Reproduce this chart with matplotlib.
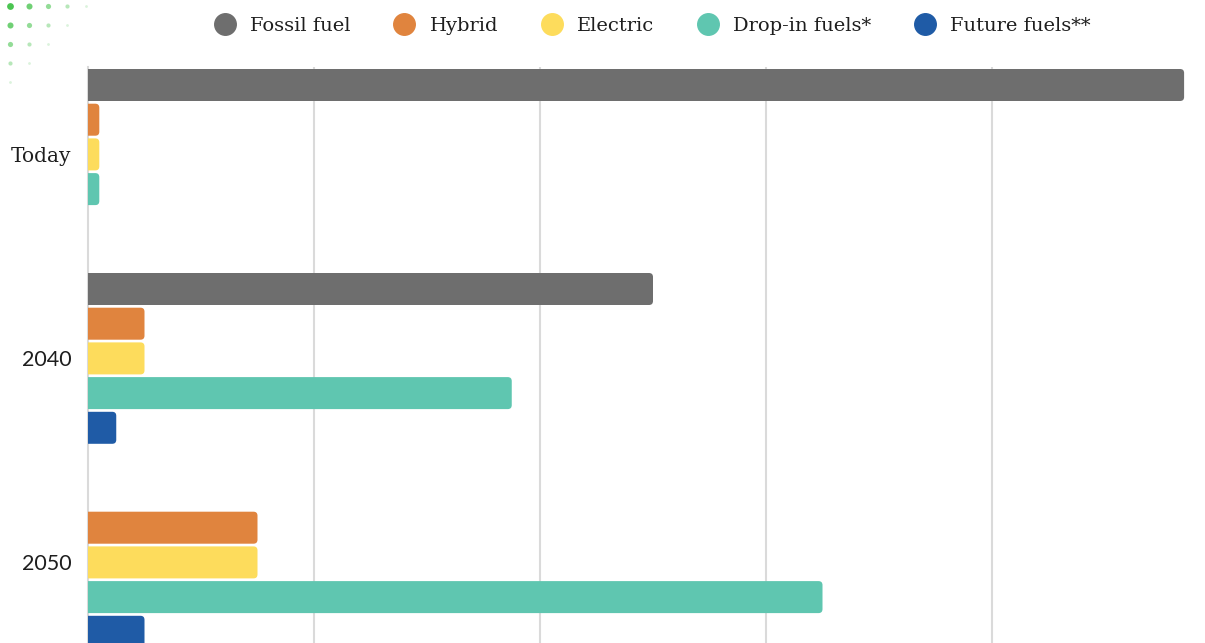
import numpy as np
import matplotlib.pyplot as plt
from matplotlib.patches import FancyBboxPatch
from matplotlib.lines import Line2D

# data ------------------------------------------------
groups = ["Today", "2040", "2050"]
series = ["Fossil fuel", "Hybrid", "Electric", "Drop-in fuels*", "Future fuels**"]
colors = ["#6e6e6e", "#e0843e", "#fddc5c", "#5fc6b0", "#1f5ba6"]

fossil = [97, 50, 0]
hybrid = [1, 5, 15]
electric = [1, 5, 15]
dropin = [1, 37.5, 65]
future = [0, 2.5, 5]
values = [fossil, hybrid, electric, dropin, future]

# layout ----------------------------------------------
W, H = 1205, 643
fig = plt.figure(figsize=(W / 100, H / 100), dpi=100)
ax_top = 67
ax = fig.add_axes([88 / W, 0, 1 - 88 / W, (H - ax_top) / H])

slot_px = 34.7
group_gap = 204 / slot_px
bar_h = 32 / slot_px
px_per_unit = 11.3

# rounded right ends
r_x = 4 / px_per_unit
aspect = (4 / slot_px) / r_x

for i, (name, vals, col) in enumerate(zip(series, values, colors)):
    pos = np.arange(len(groups)) * group_gap + i
    bars = ax.barh(pos, vals, height=bar_h, color=col)
    for b in bars:
        b.set_visible(False)
        w = b.get_width()
        if w <= 0:
            continue
        p = FancyBboxPatch((-r_x * 2, b.get_y()), w + r_x * 2, b.get_height(),
                           boxstyle="round,pad=0,rounding_size=%f" % r_x,
                           mutation_aspect=aspect, fc=col, ec="none", zorder=3)
        ax.add_patch(p)

ax.set_xlim(0, (W - 88) / px_per_unit)
ax.set_ylim((H - 85) / slot_px, (ax_top - 85) / slot_px)

ax.set_xticks([20, 40, 60, 80])
ax.set_xticklabels([])
ax.grid(axis="x", color="#dadada", lw=1.5, zorder=0)
ax.tick_params(axis="x", length=0)
ax.set_axisbelow(True)

ax.set_yticks(np.arange(len(groups)) * group_gap + 2)
ax.set_yticklabels(groups)
ax.tick_params(axis="y", length=0, pad=12, labelsize=15.5, labelcolor="#1e1e1e")
for lab in ax.get_yticklabels():
    if lab.get_text() == "Today":
        lab.set_fontfamily("DejaVu Serif")
        lab.set_fontsize(14.5)
    else:
        lab.set_fontfamily("Lato")

for s in ["top", "right", "bottom"]:
    ax.spines[s].set_visible(False)
ax.spines["left"].set_color("#dadada")
ax.spines["left"].set_linewidth(1.5)

# legend
handles = [Line2D([], [], marker="o", ls="none", markersize=15.5, color=c) for c in colors]
fig.legend(handles, series, loc="center", bbox_to_anchor=(648 / W, 1 - 26 / H), ncol=5,
           frameon=False, handletextpad=0.3, columnspacing=1.75,
           prop={"family": "DejaVu Serif", "size": 14}, labelcolor="#1e1e1e")

# decorative dots top left
dot_ax = fig.add_axes([0, 0, 1, 1], facecolor="none")
dot_ax.set_xlim(0, W)
dot_ax.set_ylim(H, 0)
dot_ax.axis("off")
for r in range(5):
    for c in range(5 - r):
        k = r + c
        dot_ax.scatter(10 + 19 * c, 6 + 19 * r, s=max(24 - 5 * k, 3),
                       color="#4cc552", alpha=max(1 - 0.2 * k, 0.15), lw=0)

fig.savefig("out.png", dpi=100)
